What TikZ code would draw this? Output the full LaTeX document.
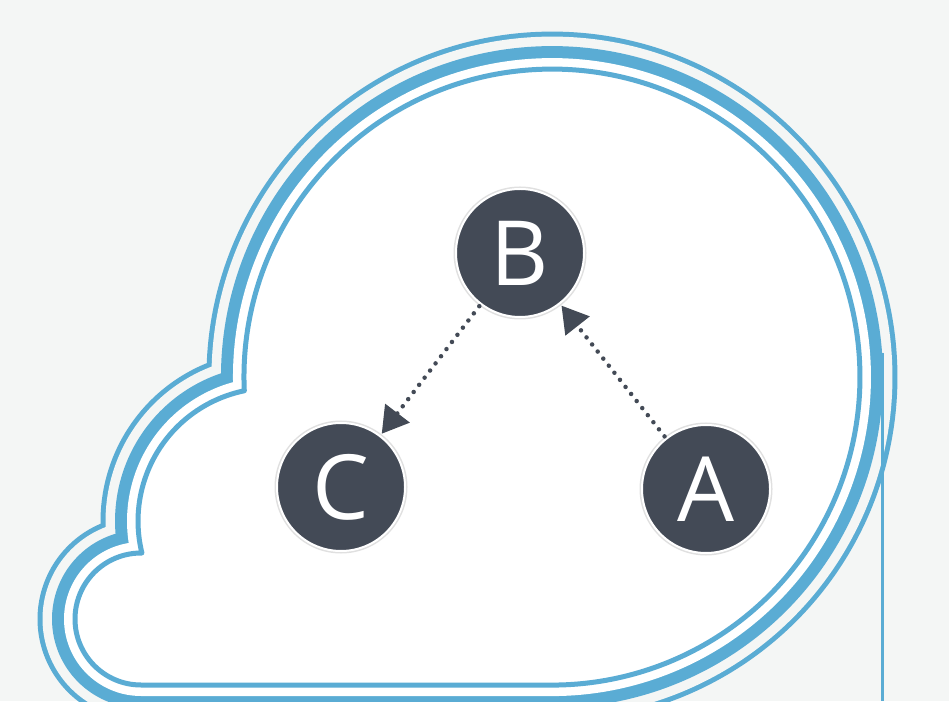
\documentclass[tikz,border=0pt]{standalone}
\usepackage{fontspec}
\setsansfont{Open Sans}
\usepackage{xcolor}
\usepackage{tikz}
\usetikzlibrary{arrows.meta}
\definecolor{cloudblue}{RGB}{90,172,212}
\definecolor{nodegray}{RGB}{67,74,86}
\definecolor{paper}{RGB}{244,246,245}

\begin{document}
\begin{tikzpicture}[x=1pt,y=1pt]
		\fill[paper] (0,0) rectangle (949,701);
		\useasboundingbox (0,0) rectangle (949,701);
		% cloud outline: small lobe, middle lobe, big lobe, flat bottom
		\def\cloud{(141,16) arc[start angle=270,end angle=89.2,radius=66]
			arc[start angle=193.9,end angle=101.6,radius=133]
			arc[start angle=182.55,end angle=-90,radius=308] -- cycle}
		\tikzstyle{ring}=[line join=round]
		\draw[ring,cloudblue,line width=75pt] \cloud;
		\draw[ring,paper,line width=65pt] \cloud;
		\draw[ring,cloudblue,line width=46pt] \cloud;
		\draw[ring,white,line width=22pt] \cloud;
		\fill[white] \cloud;
		\draw[ring,cloudblue,line width=5pt] \cloud;
		\draw[cloudblue,line width=3pt] (882.5,348) -- (882.5,0);
		\tikzstyle{every node}+=[circle,fill=nodegray,draw=white,line width=2pt,inner sep=0pt,outer sep=3pt,minimum size=128pt,text=white,font=\sffamily\fontsize{90}{90}\selectfont,preaction={draw=black!12,line width=5pt}]
		\node (b) at (520,448) {B};
		\node (c) at (341,214) {C};
		\node (a) at (706,212) {A};
		\tikzstyle{every edge}+=[draw=nodegray,line width=4.5pt,line cap=round,dash pattern=on 0pt off 9pt,-{Triangle[length=26pt,width=30pt]}]
		\draw (b) edge (c)
		(a) edge (b);
\end{tikzpicture}
\end{document}
